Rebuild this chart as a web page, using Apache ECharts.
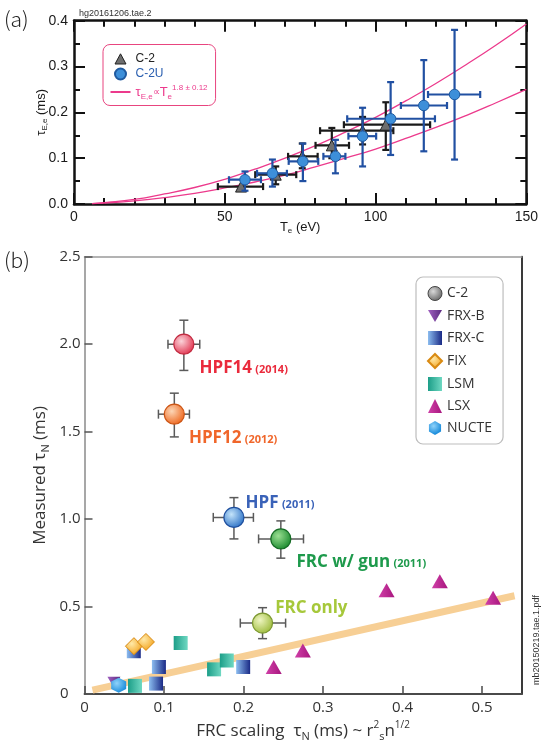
<!DOCTYPE html>
<html><head><meta charset="utf-8">
<script src="https://cdn.jsdelivr.net/npm/echarts@6/dist/echarts.min.js"></script>
<style>html,body{margin:0;padding:0;background:#fff}#c{width:541px;height:747px}</style>
</head><body><div id="c"></div>
<script>
// ---------- Panel (a) data ----------
const c2Te     = [55.4, 66.9, 75.7, 85.5, 95.7, 103.4];
const c2Tau    = [0.038, 0.064, 0.104, 0.128, 0.160, 0.173];
const c2TeLo   = [47.7, 60.1, 71.0, 80.1, 81.6, 89.5];
const c2TeHi   = [62.7, 73.7, 80.8, 91.2, 105.9, 118.1];
const c2TauLo  = [0.038, 0.043, 0.078, 0.100, 0.130, 0.118];
const c2TauHi  = [0.038, 0.082, 0.132, 0.166, 0.190, 0.222];
const c2uTe    = [56.7, 65.8, 75.9, 86.7, 95.7, 105.0, 116.0, 126.2];
const c2uTau   = [0.053, 0.067, 0.093, 0.104, 0.148, 0.186, 0.215, 0.239];
const c2uTeLo  = [51.4, 60.7, 71.2, 82.7, 91.0, 90.6, 108.4, 117.4];
const c2uTeHi  = [62.0, 70.6, 81.0, 90.0, 100.2, 119.7, 123.7, 134.7];
const c2uTauLo = [0.029, 0.038, 0.050, 0.067, 0.082, 0.107, 0.115, 0.097];
const c2uTauHi = [0.071, 0.097, 0.132, 0.140, 0.210, 0.266, 0.314, 0.380];
const fitTe    = [6, 10, 20, 30, 40, 50, 60, 70, 80, 90, 100, 110, 120, 130, 140, 150];
const fitUpper = [0.001, 0.003, 0.010, 0.022, 0.036, 0.054, 0.076, 0.100, 0.127, 0.157, 0.189, 0.225, 0.263, 0.304, 0.347, 0.393];
const fitLower = [0.0007, 0.002, 0.007, 0.014, 0.023, 0.035, 0.048, 0.063, 0.081, 0.100, 0.120, 0.143, 0.167, 0.193, 0.221, 0.250];

// ---------- Panel (b) data ----------
const c2bNames  = ['HPF14', 'HPF12', 'HPF', 'FRC w/ gun', 'FRC only'];
const c2bYears  = ['(2014)', '(2012)', '(2011)', '(2011)', ''];
const c2bScal   = [0.125, 0.113, 0.188, 0.247, 0.224];
const c2bMeas   = [2.00, 1.60, 1.01, 0.887, 0.406];
const c2bScalLo = [0.105, 0.093, 0.162, 0.219, 0.196];
const c2bScalHi = [0.145, 0.132, 0.2125, 0.2755, 0.253];
const c2bMeasLo = [1.85, 1.47, 0.887, 0.777, 0.317];
const c2bMeasHi = [2.137, 1.72, 1.123, 0.99, 0.494];
const frxbScal = [0.037];  const frxbMeas = [0.068];
const frxcScal = [0.062, 0.0936, 0.090, 0.1996]; const frxcMeas = [0.245, 0.155, 0.06, 0.155];
const fixScal  = [0.0622, 0.0773]; const fixMeas = [0.274, 0.298];
const lsmScal  = [0.121, 0.0635, 0.163, 0.179]; const lsmMeas = [0.292, 0.047, 0.1415, 0.192];
const lsxScal  = [0.238, 0.2747, 0.380, 0.447, 0.514]; const lsxMeas = [0.155, 0.249, 0.594, 0.645, 0.551];
const nucteScal = [0.043]; const nucteMeas = [0.05];
const trendScal = [0.01, 0.541]; const trendMeas = [0.023, 0.562];

const zip = (a, b) => a.map((v, i) => [v, b[i]]);
const errData = (x, y, xl, xh, yl, yh) => x.map((v, i) => [v, y[i], xl[i], xh[i], yl[i], yh[i]]);

function errRender(cap, color, width) {
  return function (params, api) {
    const x = api.value(0), y = api.value(1);
    const xl = api.value(2), xh = api.value(3), yl = api.value(4), yh = api.value(5);
    const c = api.coord([x, y]);
    const pxl = api.coord([xl, y])[0], pxh = api.coord([xh, y])[0];
    const pyl = api.coord([x, yl])[1], pyh = api.coord([x, yh])[1];
    const st = { stroke: color, lineWidth: width, fill: null };
    const L = (x1, y1, x2, y2) => ({ type: 'line', shape: { x1, y1, x2, y2 }, style: st });
    const ch = [];
    if (xh > xl) {
      ch.push(L(pxl, c[1], pxh, c[1]), L(pxl, c[1] - cap, pxl, c[1] + cap), L(pxh, c[1] - cap, pxh, c[1] + cap));
    }
    if (yh > yl) {
      ch.push(L(c[0], pyl, c[0], pyh), L(c[0] - cap, pyl, c[0] + cap, pyl), L(c[0] - cap, pyh, c[0] + cap, pyh));
    }
    return { type: 'group', children: ch };
  };
}

const radial = (inner, outer) => ({ type: 'radial', x: 0.38, y: 0.36, r: 0.65,
  colorStops: [{ offset: 0, color: inner }, { offset: 1, color: outer }] });
const linearH = (a, b) => ({ type: 'linear', x: 0, y: 0, x2: 1, y2: 0,
  colorStops: [{ offset: 0, color: a }, { offset: 1, color: b }] });

const c2bStyles = [
  { fill: radial('#fbd3d9', '#e23a55'), border: '#c22a40', text: '#ea2a3c' },
  { fill: radial('#fcd6b6', '#ee6a22'), border: '#cc5515', text: '#f0662a' },
  { fill: radial('#c4e4fa', '#3276c8'), border: '#1f4f9e', text: '#3a62b8' },
  { fill: radial('#9adf92', '#1d8c30'), border: '#156b24', text: '#1e9a4c' },
  { fill: radial('#eef5c0', '#a0bd40'), border: '#7c9830', text: '#a6c83a' }
];
const c2bLabelOffsets = [[0, 24], [-1, 24], [-4, -14], [0, 23], [-3, -15]];

const fontA = 'Liberation Sans, Arial, sans-serif';
const fontB = 'Open Sans, Noto Sans, sans-serif';

const axA = () => ({
  axisLine: { show: true, onZero: false, lineStyle: { color: '#111', width: 2.5 } },
  axisTick: { show: true, inside: true, length: 11, lineStyle: { color: '#111', width: 2 } },
  splitLine: { show: false }
});
const minorA = n => ({ show: true, splitNumber: n, length: 6, lineStyle: { color: '#111', width: 2 } });

// legend icons padded to 20x11 boxes with invisible corner specks
const triIcon = 'path://M0,0 L0.01,0 L0.01,0.01 Z M20,11 L19.99,11 L19.99,10.99 Z M4.5,11 L10,0.8 L15.5,11 Z';
const lineIcon = 'path://M0,0 L0.01,0 L0.01,0.01 Z M20,11 L19.99,11 L19.99,10.99 Z M0,4.6 L20,4.6 L20,6.6 L0,6.6 Z';

const chart = echarts.init(document.getElementById('c'), null, { renderer: 'canvas' });
chart.setOption({
  animation: false,
  backgroundColor: '#fff',
  grid: [
    { left: 74, top: 20.7, right: 9, height: 183.3 },
    { left: 84.5, top: 256.7, right: 19.3, bottom: 52.7 }
  ],
  graphic: [
    { type: 'text', left: 4, top: 9, style: { text: '(a)', font: '300 21px "Noto Sans CJK JP", sans-serif', fill: '#222' } },
    { type: 'text', left: 79, top: 9, style: { text: 'hg20161206.tae.2', font: '9px ' + fontA, fill: '#333' } },
    { type: 'text', left: 4, top: 250, style: { text: '(b)', font: '300 21px "Noto Sans CJK JP", sans-serif', fill: '#222' } },
    { type: 'text', x: 537, y: 640, rotation: Math.PI / 2,
      style: { text: 'mb20150219.tae.1.pdf', font: '9px ' + fontA, fill: '#333', align: 'center', verticalAlign: 'middle' } }
  ],
  legend: [
    {
      left: 103, top: 44.5, orient: 'vertical', padding: [8, 8, 5, 7],
      borderColor: '#e8457f', borderWidth: 1, borderRadius: 7,
      itemWidth: 20, itemHeight: 11, itemGap: 3,
      textStyle: { fontFamily: fontA, fontSize: 12, color: '#222',
        rich: {
          t: { fontSize: 13, color: '#ec3a8c', fontFamily: fontA, lineHeight: 17 },
          p: { fontSize: 10, color: '#ec3a8c', fontFamily: fontA, lineHeight: 17 },
          sb: { fontSize: 8, color: '#ec3a8c', fontFamily: fontA, verticalAlign: 'bottom', lineHeight: 8 },
          sp: { fontSize: 8, color: '#ec3a8c', fontFamily: fontA, verticalAlign: 'top', lineHeight: 8 }
        } },
      data: [
        { name: 'C-2', icon: triIcon, textStyle: { color: '#222' }, itemStyle: { color: '#6e6e6e', borderColor: '#222', borderWidth: 1 } },
        { name: 'C-2U', icon: 'circle', textStyle: { color: '#2a5fb0' } },
        { name: 'fit', icon: lineIcon, itemStyle: { color: '#ec3a8c', borderWidth: 0 }, lineStyle: { width: 0, opacity: 0 } }
      ],
      formatter: n => n === 'fit' ? '{t|τ}{sb|E,e}{p|∝}{t|T}{sb|e}{sp|1.8 ± 0.12}' : n
    },
    {
      left: 416, top: 277, orient: 'vertical', padding: [9, 11, 9, 11],
      borderColor: '#bdbdbd', borderWidth: 1.2, borderRadius: 7,
      itemWidth: 14, itemHeight: 14, itemGap: 8,
      textStyle: { fontFamily: fontB, fontSize: 14, color: '#333' },
      formatter: n => n.trim(),
      data: [
        { name: 'C-2 ', icon: 'circle', itemStyle: { color: radial('#d8d8d8', '#6a6a6a'), borderColor: '#444', borderWidth: 1 } },
        'FRX-B', 'FRX-C', 'FIX', 'LSM', 'LSX', 'NUCTE'
      ]
    }
  ],
  xAxis: [
    Object.assign({ gridIndex: 0, type: 'value', min: 0, max: 150, interval: 50, position: 'bottom',
      minorTick: minorA(5),
      axisLabel: { fontFamily: fontA, fontSize: 14, color: '#1a1a1a', margin: 6 },
      name: '{t|T}{s|e}{t| (eV)}', nameLocation: 'middle', nameGap: 15, nameMoveOverlap: false,
      nameTextStyle: { rich: { t: { fontFamily: fontA, fontSize: 13, color: '#1a1a1a', lineHeight: 16 },
        s: { fontFamily: fontA, fontSize: 8, color: '#1a1a1a', verticalAlign: 'bottom', lineHeight: 9 } } } }, axA()),
    Object.assign({ gridIndex: 0, type: 'value', min: 0, max: 150, interval: 50, position: 'top',
      minorTick: minorA(5), axisLabel: { show: false } }, axA()),
    { gridIndex: 1, type: 'value', min: 0, max: 0.55, interval: 0.1, position: 'bottom',
      axisLine: { show: true, onZero: false, lineStyle: { color: '#4a4a4a', width: 1.8 } },
      axisTick: { show: true, inside: true, length: 8, lineStyle: { color: '#4a4a4a', width: 1.5 } },
      splitLine: { show: false },
      axisLabel: { fontFamily: fontB, fontSize: 15, color: '#333', margin: 6, showMaxLabel: false,
        formatter: v => v === 0 ? '0' : v.toFixed(1) },
      name: '{a|FRC scaling  τ}{sb|N}{a| (ms) ~ r}{sp|2}{sb|s}{a|n}{sp|1/2}', nameLocation: 'middle', nameGap: 25,
      nameTextStyle: { rich: {
        a: { fontFamily: fontB, fontSize: 17, color: '#333', lineHeight: 22 },
        sb: { fontFamily: fontB, fontSize: 11, color: '#333', verticalAlign: 'bottom', lineHeight: 11 },
        sp: { fontFamily: fontB, fontSize: 10, color: '#333', verticalAlign: 'top', lineHeight: 10 } } } },
    { gridIndex: 1, type: 'value', min: 0, max: 0.55, position: 'top',
      axisLine: { show: true, onZero: false, lineStyle: { color: '#9a9a9a', width: 1.5 } },
      axisTick: { show: false }, axisLabel: { show: false }, splitLine: { show: false } }
  ],
  yAxis: [
    Object.assign({ gridIndex: 0, type: 'value', min: 0, max: 0.4, interval: 0.1, position: 'left',
      minorTick: minorA(2),
      axisLabel: { fontFamily: fontA, fontSize: 14, color: '#1a1a1a', margin: 6, formatter: v => v.toFixed(1) },
      name: '{t|τ}{s|E,e}{t| (ms)}', nameLocation: 'middle', nameGap: 25, nameRotate: 90, nameMoveOverlap: false,
      nameTextStyle: { rich: { t: { fontFamily: fontA, fontSize: 13, color: '#1a1a1a', lineHeight: 16 },
        s: { fontFamily: fontA, fontSize: 8, color: '#1a1a1a', verticalAlign: 'bottom', lineHeight: 9 } } } }, axA()),
    Object.assign({ gridIndex: 0, type: 'value', min: 0, max: 0.4, interval: 0.1, position: 'right',
      minorTick: minorA(2), axisLabel: { show: false } }, axA()),
    { gridIndex: 1, type: 'value', min: 0, max: 2.5, interval: 0.5, position: 'left',
      axisLine: { show: true, onZero: false, lineStyle: { color: '#8a8a8a', width: 1.5 } },
      axisTick: { show: true, inside: true, length: 8, lineStyle: { color: '#555', width: 1.5 } },
      splitLine: { show: false },
      axisLabel: { fontFamily: fontB, fontSize: 15, color: '#333', margin: 4,
        formatter: v => v === 0 ? '{z|0}' : v.toFixed(1), rich: { z: { fontFamily: fontB, fontSize: 15, color: '#333', padding: [0, 12, 0, 0] } } },
      name: '{a|Measured τ}{sb|N}{a| (ms)}', nameLocation: 'middle', nameGap: 33, nameRotate: 90, nameMoveOverlap: false,
      nameTextStyle: { rich: {
        a: { fontFamily: fontB, fontSize: 17, color: '#333', lineHeight: 22 },
        sb: { fontFamily: fontB, fontSize: 11, color: '#333', verticalAlign: 'bottom', lineHeight: 11 } } } },
    { gridIndex: 1, type: 'value', min: 0, max: 2.5, position: 'right',
      axisLine: { show: true, onZero: false, lineStyle: { color: '#3a3a3a', width: 2 } },
      axisTick: { show: false }, axisLabel: { show: false }, splitLine: { show: false } }
  ],
  series: [
    // ----- panel (a) -----
    { type: 'line', name: 'fit', xAxisIndex: 0, yAxisIndex: 0, data: zip(fitTe, fitUpper), smooth: true,
      symbol: 'none', lineStyle: { color: '#ec3a8c', width: 1.3 }, itemStyle: { color: '#ec3a8c' }, z: 2 },
    { type: 'line', name: 'fit', xAxisIndex: 0, yAxisIndex: 0, data: zip(fitTe, fitLower), smooth: true,
      symbol: 'none', lineStyle: { color: '#ec3a8c', width: 1.3 }, itemStyle: { color: '#ec3a8c' }, z: 2 },
    { type: 'custom', name: 'errC2', xAxisIndex: 0, yAxisIndex: 0, z: 3,
      renderItem: errRender(3.5, '#1a1a1a', 2.2), encode: { x: [0, 2, 3], y: [1, 4, 5] },
      data: errData(c2Te, c2Tau, c2TeLo, c2TeHi, c2TauLo, c2TauHi) },
    { type: 'scatter', name: 'C-2', xAxisIndex: 0, yAxisIndex: 0, z: 4, symbol: 'triangle', symbolSize: 11,
      itemStyle: { color: '#6e6e6e', borderColor: '#222', borderWidth: 1, opacity: 1 },
      data: zip(c2Te, c2Tau) },
    { type: 'custom', name: 'errC2U', xAxisIndex: 0, yAxisIndex: 0, z: 5,
      renderItem: errRender(3.5, '#2150a2', 2.2), encode: { x: [0, 2, 3], y: [1, 4, 5] },
      data: errData(c2uTe, c2uTau, c2uTeLo, c2uTeHi, c2uTauLo, c2uTauHi) },
    { type: 'scatter', name: 'C-2U', xAxisIndex: 0, yAxisIndex: 0, z: 6, symbol: 'circle', symbolSize: 10.5,
      itemStyle: { color: '#3d8fd9', borderColor: '#1f5aa0', borderWidth: 1, opacity: 1 },
      data: zip(c2uTe, c2uTau) },
    // ----- panel (b) -----
    { type: 'line', name: 'trend', xAxisIndex: 2, yAxisIndex: 2, data: zip(trendScal, trendMeas),
      symbol: 'none', lineStyle: { color: '#f7cf95', width: 7, cap: 'butt' }, z: 1 },
    { type: 'custom', name: 'errB', xAxisIndex: 2, yAxisIndex: 2, z: 2,
      renderItem: errRender(4.5, '#5a5a5a', 1.5), encode: { x: [0, 2, 3], y: [1, 4, 5] },
      data: errData(c2bScal, c2bMeas, c2bScalLo, c2bScalHi, c2bMeasLo, c2bMeasHi) },
    { type: 'scatter', name: 'FRX-B', xAxisIndex: 2, yAxisIndex: 2, z: 3, symbol: 'path://M0,0 L20,0 L10,17 Z', symbolSize: [13, 11],
      itemStyle: { color: linearH('#a060c0', '#5a2a80'), opacity: 1 }, data: zip(frxbScal, frxbMeas) },
    { type: 'scatter', name: 'FRX-C', xAxisIndex: 2, yAxisIndex: 2, z: 3, symbol: 'rect', symbolSize: 14,
      itemStyle: { color: linearH('#8cbdf0', '#1a2a86'), opacity: 1 }, data: zip(frxcScal, frxcMeas) },
    { type: 'scatter', name: 'FIX', xAxisIndex: 2, yAxisIndex: 2, z: 4, symbol: 'diamond', symbolSize: 17,
      itemStyle: { color: radial('#ffe9a8', '#f3a41e'), borderColor: '#d98a12', borderWidth: 1, opacity: 1 }, data: zip(fixScal, fixMeas) },
    { type: 'scatter', name: 'LSM', xAxisIndex: 2, yAxisIndex: 2, z: 3, symbol: 'rect', symbolSize: 14,
      itemStyle: { color: linearH('#1c9e88', '#6fd8c2'), opacity: 1 }, data: zip(lsmScal, lsmMeas) },
    { type: 'scatter', name: 'LSX', xAxisIndex: 2, yAxisIndex: 2, z: 3, symbol: 'triangle', symbolSize: [16, 14],
      itemStyle: { color: linearH('#d040a8', '#a8167e'), opacity: 1 }, data: zip(lsxScal, lsxMeas) },
    { type: 'scatter', name: 'NUCTE', xAxisIndex: 2, yAxisIndex: 2, z: 4,
      symbol: 'path://M10,0 L18.66,5 L18.66,15 L10,20 L1.34,15 L1.34,5 Z', symbolSize: 15,
      itemStyle: { color: radial('#8fd2fa', '#1f8fdc'), opacity: 1 }, data: zip(nucteScal, nucteMeas) },
    { type: 'scatter', name: 'C-2 ', xAxisIndex: 2, yAxisIndex: 2, z: 5, symbol: 'circle', symbolSize: 20,
      itemStyle: { color: radial('#d8d8d8', '#6a6a6a'), borderColor: '#444', borderWidth: 1, opacity: 1 },
      data: c2bScal.map((x, i) => ({
        value: [x, c2bMeas[i]], name: c2bNames[i],
        itemStyle: { color: c2bStyles[i].fill, borderColor: c2bStyles[i].border, borderWidth: 1.2 },
        label: {
          show: true, position: 'right', distance: 5, offset: c2bLabelOffsets[i], color: c2bStyles[i].text,
          formatter: c2bYears[i] ? '{m|' + c2bNames[i] + '} {s|' + c2bYears[i] + '}' : '{m|' + c2bNames[i] + '}',
          rich: {
            m: { fontFamily: fontB, fontWeight: 'bold', fontSize: 17, color: c2bStyles[i].text },
            s: { fontFamily: fontB, fontWeight: 'bold', fontSize: 11, color: c2bStyles[i].text, padding: [3, 0, 0, 0] }
          }
        }
      })) }
  ]
});
</script>
</body></html>
